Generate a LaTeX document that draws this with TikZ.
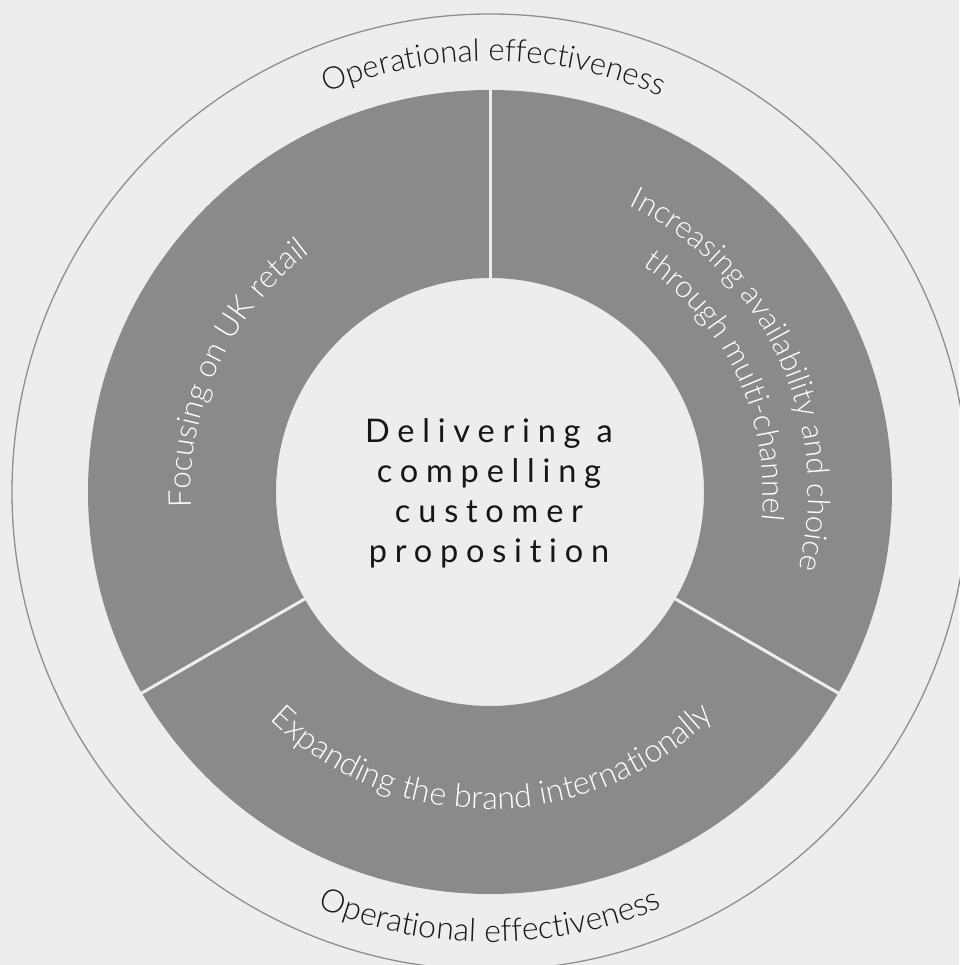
\documentclass[tikz,border=0pt]{standalone}
\usepackage{fontspec}
\usetikzlibrary{decorations.text}

% Faces: a tracked regular cut for the hub, a light cut for the arc labels
\newfontfamily\hubfont{Lato}[LetterSpace=24, Ligatures=NoCommon]
\newfontfamily\arcfont{Lato Light}

\definecolor{canvas}{RGB}{237,237,237}
\definecolor{ringgrey}{RGB}{139,138,136}
\definecolor{rim}{RGB}{142,142,142}
\definecolor{ink}{RGB}{22,22,22}

\tikzset{
  arclabel/.style={decorate,
    decoration={text along path, text align=center, text={#1}}},
  divider/.style={draw=canvas, line width=3pt},
  rimline/.style={draw=rim, line width=1.3pt},
}

\begin{document}
\begin{tikzpicture}[x=1pt,y=1pt]
  % page and frame
  \fill[canvas] (-490,-473) rectangle (469,492);
  \useasboundingbox (-490,-473) rectangle (469,492);

  % outer boundary
  \draw[rimline] (0,0) circle[radius=478];

  % the grey ring and its three sectors
  \fill[ringgrey, even odd rule] (0,0) circle[radius=402] (0,0) circle[radius=214];
  \foreach \a in {90,210,330}
    \draw[divider] (\a:210) -- (\a:406);

  % hub
  \node[font=\hubfont\fontsize{32.5}{40}\selectfont, text=ink, align=center]
    (hub) at (-1,-1) {Delivering a\\compelling\\customer\\proposition};

  % sector labels
  \path[arclabel={|\arcfont\fontsize{31.5}{36}\selectfont\color{white}|Focusing on UK retail}]
    (205:299) arc[start angle=205, end angle=105, radius=299];
  \path[arclabel={|\arcfont\fontsize{31}{36}\selectfont\color{white}|Increasing availability and choice}]
    (80:318) arc[start angle=80, end angle=-30, radius=318];
  \path[arclabel={|\arcfont\fontsize{31}{36}\selectfont\color{white}|through multi-channel}]
    (80:273) arc[start angle=80, end angle=-30, radius=273];
  \path[arclabel={|\arcfont\fontsize{32.2}{36}\selectfont\color{white}|Expanding the brand internationally}]
    (215:317) arc[start angle=215, end angle=326, radius=317];

  % outer band labels
  \path[arclabel={|\arcfont\fontsize{31}{36}\selectfont\color{ink}|Operational effectiveness}]
    (150:431) arc[start angle=150, end angle=29, radius=431];
  \path[arclabel={|\arcfont\fontsize{32}{36}\selectfont\color{ink}|Operational effectiveness}]
    (230:450) arc[start angle=230, end angle=310, radius=450];
\end{tikzpicture}
\end{document}
